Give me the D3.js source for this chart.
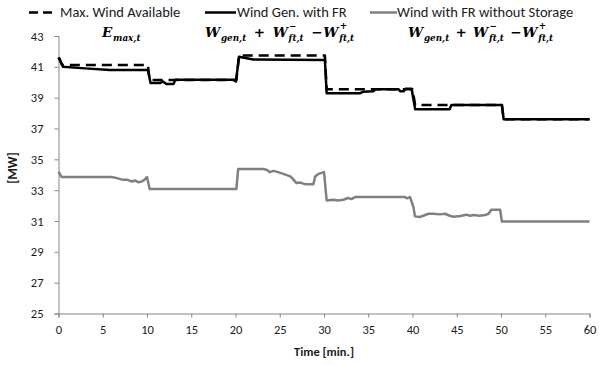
<!DOCTYPE html>
<html><head><meta charset="utf-8">
<script src="https://cdn.jsdelivr.net/npm/d3@7/dist/d3.min.js"></script>
<style>
html,body{margin:0;padding:0;background:#fff;}
svg{display:block;}
.sans{font-family:Carlito, "Open Sans", Lato, sans-serif;}
</style></head>
<body>
<svg id="chart" width="599" height="365"></svg>
<script>
// ---- data ----
const xTicks = [0,5,10,15,20,25,30,35,40,45,50,55,60];
const yTicks = [25,27,29,31,33,35,37,39,41,43];
const legendLabels = ["Max. Wind Available","Wind Gen. with FR","Wind with FR without Storage"];

const maxWindT = [0,0.4,10.1,10.3,20.1,20.4,30.1,30.3,40.0,40.3,50.1,50.3,60];
const maxWindV = [41.6,41.12,41.12,40.15,40.15,41.73,41.73,39.55,39.55,38.53,38.53,37.6,37.6];

const genT = [0,0.1,0.5,3,5.8,10.1,10.4,11.5,11.8,12.2,13.0,13.2,19.75,20.05,20.4,22.0,30.1,30.3,34.1,34.4,35.6,35.8,38.4,38.6,39.0,39.2,39.9,40.3,44.2,44.4,50.1,50.3,60];
const genV = [41.6,41.55,41.0,40.9,40.8,40.8,39.95,39.95,40.05,39.88,39.88,40.17,40.17,40.05,41.66,41.47,41.45,39.29,39.29,39.38,39.42,39.55,39.55,39.42,39.42,39.58,39.58,38.25,38.25,38.53,38.53,37.6,37.6];

const noStorT = [0,0.36,6.0,6.6,7.3,7.8,8.3,8.64,9.0,9.4,9.7,10.0,10.3,20.1,20.3,23.1,23.5,23.9,24.3,24.8,25.4,26.2,26.5,26.9,27.3,27.85,28.8,29.0,29.4,30.0,30.3,31.05,31.6,32.2,32.7,33.1,33.5,39.15,39.35,39.72,40.09,40.28,40.85,41.8,42.35,43.1,43.7,44.2,44.6,45.4,46.1,46.5,46.9,47.6,48.2,48.6,48.9,49.9,50.1,60];
const noStorV = [34.21,33.85,33.85,33.78,33.67,33.67,33.56,33.63,33.52,33.56,33.67,33.85,33.07,33.07,34.37,34.37,34.32,34.17,34.25,34.17,34.06,33.89,33.72,33.46,33.5,33.39,33.39,33.89,34.06,34.17,32.33,32.38,32.33,32.38,32.49,32.42,32.55,32.55,32.47,32.55,31.94,31.3,31.26,31.47,31.47,31.43,31.47,31.34,31.28,31.32,31.41,31.34,31.39,31.34,31.39,31.47,31.73,31.73,30.97,30.97];

// ---- chart ----
const svg = d3.select("#chart");
const x = d3.scaleLinear().domain([0,60]).range([58.5,589.5]);
const y = d3.scaleLinear().domain([25,43]).range([313.5,36]);
const axisColor = "#868686";
const textColor = "#1a1a1a";

const yAxis = svg.append("g").attr("transform","translate(58.5,0)")
  .call(d3.axisLeft(y).tickValues(yTicks).tickSize(4).tickPadding(11).tickFormat(d3.format("d")));
const xAxis = svg.append("g").attr("transform","translate(0,313.5)")
  .call(d3.axisBottom(x).tickValues(xTicks).tickSize(4).tickPadding(8).tickFormat(d3.format("d")));
[yAxis,xAxis].forEach(a=>{
  a.selectAll("path,line").attr("stroke",axisColor).attr("stroke-width",1);
  a.selectAll("text").attr("class","sans").attr("font-size",12.5).attr("fill",textColor);
});

const line = d3.line().x(d=>x(d[0])).y(d=>y(d[1]));
const series = [
  {t:noStorT, v:noStorV, color:"#808080", dash:null},
  {t:genT, v:genV, color:"#000", dash:null},
  {t:maxWindT, v:maxWindV, color:"#000", dash:"10,6"}
];
series.forEach(s=>{
  svg.append("path").datum(s.t.map((t,i)=>[t,s.v[i]]))
    .attr("d",line).attr("fill","none").attr("stroke",s.color)
    .attr("stroke-width",2.5).attr("stroke-linejoin","round")
    .attr("stroke-dasharray",s.dash);
});

// axis titles
svg.append("text").attr("class","sans").attr("x",324).attr("y",356)
  .attr("text-anchor","middle").attr("font-size",12.5).attr("font-weight","bold").attr("fill",textColor).text("Time [min.]");
svg.append("text").attr("class","sans").attr("transform","translate(16.5,168) rotate(-90)")
  .attr("text-anchor","middle").attr("font-size",13).attr("font-weight","bold").attr("fill",textColor).text("[MW]");

// legend
const legend = [
  {x1:29,x2:54,tx:60,w:128,dash:"9,5",color:"#000"},
  {x1:205,x2:236,tx:237,w:118,dash:null,color:"#000"},
  {x1:370,x2:397,tx:397,w:190,dash:null,color:"#808080"}
];
legend.forEach((l,i)=>{
  svg.append("line").attr("x1",l.x1).attr("x2",l.x2).attr("y1",12.5).attr("y2",12.5)
    .attr("stroke",l.color).attr("stroke-width",2.5).attr("stroke-dasharray",l.dash);
  const t = svg.append("text").attr("class","sans").attr("x",l.tx).attr("y",17.3)
    .attr("font-size",13).attr("fill",textColor).text(legendLabels[i]);
  const w = t.node().getComputedTextLength();
  const fs = Math.max(11.5, Math.min(14.5, 13*l.w/w));
  t.attr("font-size",fs);
});

// math labels
function drawMath(x0, base, tokens, targetW){
  function render(unit){
    const g = svg.append("g").attr("font-family","'DejaVu Serif', 'Liberation Serif', serif")
      .attr("font-weight","bold").attr("font-style","italic").attr("fill","#000");
    let cx = x0;
    tokens.forEach(tok=>{
      if(typeof tok === "string"){
        if(tok.startsWith(" ")) cx += unit;
        const t = g.append("text").attr("x",cx).attr("y",base).attr("font-size",13.5)
          .attr("xml:space","preserve").text(tok.trim());
        cx += t.node().getComputedTextLength() + 0.8;
        if(tok.endsWith(" ")) cx += unit;
      } else {
        let w = 0;
        if(tok.sub){
          const s = g.append("text").attr("x",cx).attr("y",base+4).attr("font-size",8.8).text(tok.sub);
          w = Math.max(w, s.node().getComputedTextLength());
        }
        if(tok.sup){
          const s = g.append("text").attr("x",cx+0.5).attr("y",base-7.8).attr("font-size",8.8)
            .attr("font-style","normal").text(tok.sup);
          w = Math.max(w, s.node().getComputedTextLength());
        }
        cx += w + 0.8;
      }
    });
    return {g, w: cx - x0};
  }
  let units = 0;
  tokens.forEach(t=>{ if(typeof t==="string"){ if(t.startsWith(" ")) units++; if(t.endsWith(" ")) units++; } });
  const first = render(0);
  if(units > 0){
    const unit = Math.max(1.5, Math.min(10, (targetW - first.w)/units));
    first.g.remove();
    render(unit);
  }
}
drawMath(102, 36.5, ["E",{sub:"max,t"}], 45);
const wExpr = ["W",{sub:"gen,t"}," + ","W",{sup:"−",sub:"ft,t"}," −","W",{sup:"+",sub:"ft,t"}];
drawMath(205, 36.5, wExpr, 150);
drawMath(408, 36.5, wExpr, 146);
</script>
</body></html>
